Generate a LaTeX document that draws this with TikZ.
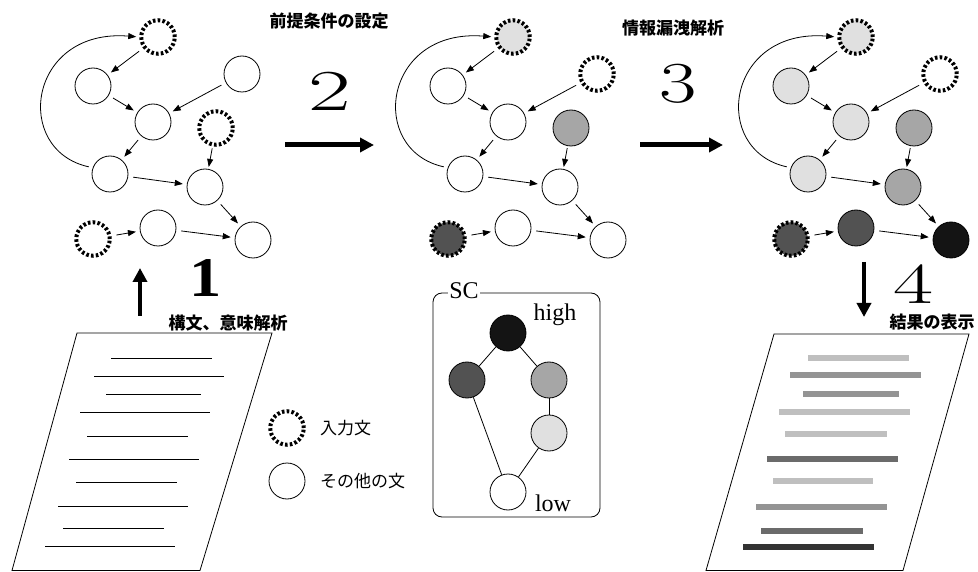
\documentclass[tikz,border=0pt]{standalone}
\usepackage{fontspec}
\usepackage{graphicx}
\usetikzlibrary{arrows.meta}
\newfontfamily\jp{Noto Sans CJK JP}
\newfontfamily\tms{Liberation Serif}
\colorlet{ltc}{black!12}
\colorlet{mdc}{black!35}
\colorlet{dkc}{black!68}
\colorlet{bkc}{black!92}
\colorlet{ltl}{black!25}
\colorlet{mdl}{black!42}
\colorlet{dkl}{black!58}
\colorlet{bkl}{black!80}
\tikzset{
  nd/.style={circle, minimum size=36pt, inner sep=0pt, draw, line width=0.8pt, fill=white},
  plain/.style={nd},
  lightn/.style={nd, fill=ltc},
  medn/.style={nd, fill=mdc},
  darkn/.style={nd, fill=dkc},
  blackn/.style={nd, fill=bkc},
  inp/.style={nd, minimum size=33.5pt, line width=4pt, dash pattern=on 2.6pt off 2.2pt},
  inpl/.style={inp, fill=ltc},
  inpd/.style={inp, fill=dkc},
  edge/.style={draw, line width=0.8pt, -{Triangle[length=8pt,width=6pt]}, shorten <=5pt, shorten >=4pt},
  bigarrow/.style={line width=5pt, -{Triangle[length=14pt,width=14pt]}},
  lab/.style={font={\jp\bfseries\fontsize{17}{20}\selectfont}, inner sep=0pt},
  leg/.style={font={\jp\fontsize{17}{20}\selectfont}, inner sep=0pt, anchor=west},
  sct/.style={font={\tms\fontsize{24}{26}\selectfont}, inner sep=0pt},
  docline/.style={line width=0.9pt},
  resline/.style={line width=6pt},
  latline/.style={line width=0.8pt}
}
\newcommand\netdraw[1]{%
  \node[nA] (#1A) at (158,37) {};
  \node[nB] (#1B) at (93,86) {};
  \node[nC] (#1C) at (242,74) {};
  \node[nD] (#1D) at (153,122) {};
  \node[nE] (#1E) at (216,128) {};
  \node[nF] (#1F) at (110,174) {};
  \node[nG] (#1G) at (205,187) {};
  \node[nH] (#1H) at (93,239) {};
  \node[nI] (#1I) at (158,228) {};
  \node[nJ] (#1J) at (253,240) {};
  \draw[edge] (#1A) -- (#1B);
  \draw[edge] (#1B) -- (#1D);
  \draw[edge] (#1C) -- (#1D);
  \draw[edge] (#1D) -- (#1F);
  \draw[edge] (#1F) -- (#1G);
  \draw[edge, shorten <=2pt, shorten >=2pt] (#1E) -- (#1G);
  \draw[edge] (#1G) -- (#1J);
  \draw[edge] (#1H) -- (#1I);
  \draw[edge] (#1I) -- (#1J);
  \draw[edge, shorten <=4pt, shorten >=3pt] (#1F.160) .. controls (12,150) and (28,28) .. (#1A.west);
}
\begin{document}
\begin{tikzpicture}[x=1pt, y=-1pt]
\useasboundingbox (0,0) rectangle (978,572);

% graph 1
\begin{scope}[nA/.style={inp}, nB/.style={plain}, nC/.style={plain}, nD/.style={plain},
  nE/.style={inp}, nF/.style={plain}, nG/.style={plain}, nH/.style={inp},
  nI/.style={plain}, nJ/.style={plain}]
  \netdraw{a}
\end{scope}
% graph 2
\begin{scope}[xshift=355pt, nA/.style={inpl}, nB/.style={plain}, nC/.style={inp}, nD/.style={plain},
  nE/.style={medn}, nF/.style={plain}, nG/.style={plain}, nH/.style={inpd},
  nI/.style={plain}, nJ/.style={plain}]
  \netdraw{b}
\end{scope}
% graph 3
\begin{scope}[xshift=698pt, nA/.style={inpl}, nB/.style={lightn}, nC/.style={inp}, nD/.style={lightn},
  nE/.style={medn}, nF/.style={lightn}, nG/.style={medn}, nH/.style={inpd},
  nI/.style={darkn}, nJ/.style={blackn}]
  \netdraw{c}
\end{scope}

% big arrows
\coordinate (a2s) at (285,145); \coordinate (a2e) at (374,145);
\draw[bigarrow] (a2s) -- (a2e);
\coordinate (a3s) at (640,145); \coordinate (a3e) at (723,145);
\draw[bigarrow] (a3s) -- (a3e);
\coordinate (a1s) at (140,316); \coordinate (a1e) at (140,268);
\draw[bigarrow, line width=4.5pt] (a1s) -- (a1e);
\coordinate (a4s) at (864,262); \coordinate (a4e) at (864,317);
\draw[bigarrow, line width=4.5pt] (a4s) -- (a4e);

% step numbers
\node[font={\fontsize{58}{60}\selectfont}, inner sep=0pt] (n2) at (330,91) {\scalebox{1.6}[1]{2}};
\node[font={\fontsize{58}{60}\selectfont}, inner sep=0pt] (n3) at (678,84) {\scalebox{1.4}[1]{3}};
\node[font={\fontsize{58}{60}\selectfont}, inner sep=0pt] (n4) at (913,284) {\scalebox{1.5}[1]{4}};
\node[font={\tms\bfseries\fontsize{56}{60}\selectfont}, inner sep=0pt] (n1) at (206,278) {\scalebox{1.15}[1]{1}};

% step labels
\node[lab] (l2) at (329,21) {前提条件の設定};
\node[lab] (l3) at (673,28) {情報漏洩解析};
\node[lab] (l1) at (228,323) {構文、意味解析};
\node[lab] (l4) at (932,322) {結果の表示};

% input document
\draw[line width=0.8pt] (77,333) -- (272,333) -- (200,570.5) -- (12,570.5) -- cycle;
\foreach \a/\b/\y in {111/212/358, 94/224/376, 106/201/394, 80/210/412, 87/188/436,
                      69/199/459, 76/177/482, 58/188/506, 63/164/528, 45/175/546}
  \draw[docline] (\a,\y) -- (\b,\y);

% result document
\draw[line width=0.8pt] (774,334) -- (969,334) -- (903,570.5) -- (706,570.5) -- cycle;
\foreach \a/\b/\y/\c in {808/909/358/ltl, 790/921/375/mdl, 803/899/394/mdl, 779/910/412/ltl,
                         785/887/434/ltl, 767/898/459/dkl, 773/873/481/ltl, 756/887/507/mdl,
                         761/863/531/dkl, 743/874/547/bkl}
  \draw[resline, color=\c] (\a,\y) -- (\b,\y);

% SC lattice
\node[draw, line width=0.8pt, rounded corners=9pt, minimum width=167pt, minimum height=224pt, inner sep=0pt] (scbox) at (516.5,405) {};
\node[sct, fill=white, inner xsep=1pt] (sclab) at (464,291) {SC};
\node[blackn] (sH) at (508,333) {};
\node[darkn] (sL) at (467,380) {};
\node[medn] (sR) at (549,380) {};
\node[lightn] (sM) at (549,433) {};
\node[plain] (sW) at (508,492) {};
\draw[latline] (sH) -- (sL);
\draw[latline] (sH) -- (sR);
\draw[latline] (sR) -- (sM);
\draw[latline] (sM) -- (sW);
\draw[latline] (sL) -- (sW);
\node[sct] (thigh) at (555,315) {high};
\node[sct] (tlow) at (553,503) {low};

% legend
\node[inp] (lg1) at (287,428) {};
\node[leg] (lg1t) at (320,428) {入力文};
\node[plain] (lg2) at (287,481) {};
\node[leg] (lg2t) at (320,481) {その他の文};
\end{tikzpicture}
\end{document}
